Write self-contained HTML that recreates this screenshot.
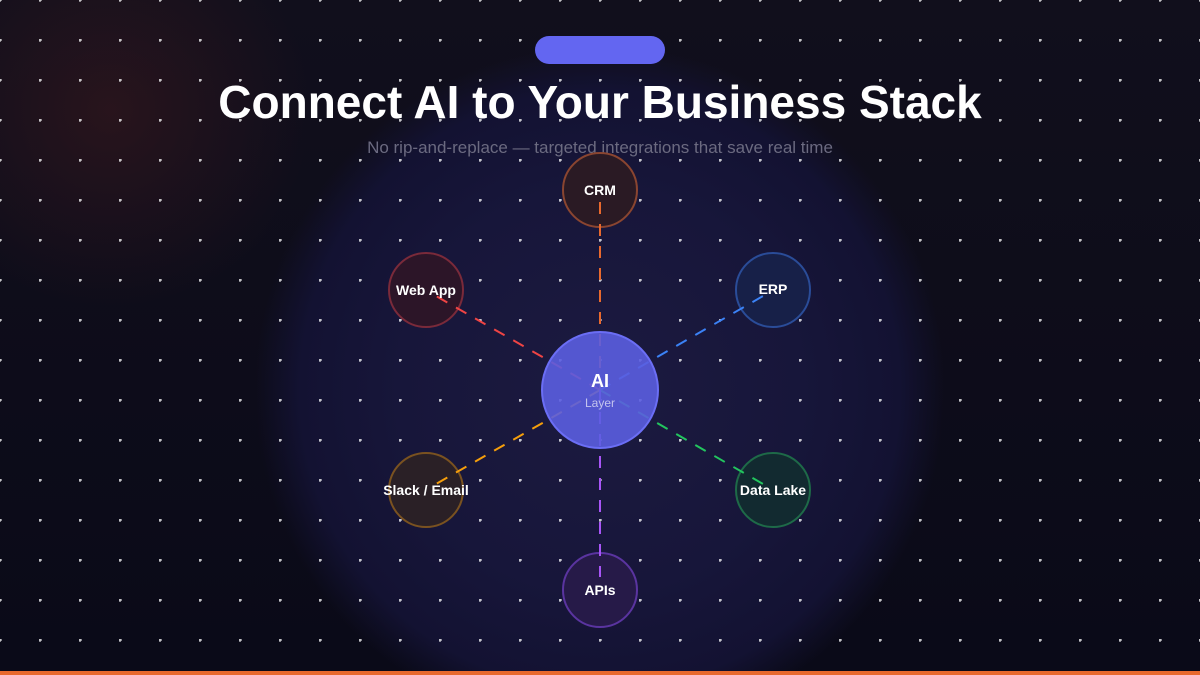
<!DOCTYPE html>
<html><head><meta charset="utf-8"><style>
html,body{margin:0;padding:0}
body{width:1200px;height:675px;overflow:hidden;background:#0c0b18;font-family:"Liberation Sans",sans-serif;position:relative}
.bg{position:absolute;inset:0;background:
radial-gradient(circle at 600px 390px,#1c1a40 0,#17163a 200px,#131232 300px,rgba(14,13,30,0) 345px),
radial-gradient(circle at 110px 110px,rgba(60,25,30,.55) 0,rgba(30,15,25,0) 200px),
linear-gradient(180deg,#110f1c,#0a0a18)}
.pill{position:absolute;left:535px;top:36px;width:130px;height:28px;border-radius:14px;background:#6366f1}
h1{position:absolute;top:75px;left:0;width:1200px;margin:0;text-align:center;color:#fff;font-size:46px;font-weight:bold;line-height:54px}
.sub{position:absolute;top:138px;left:0;width:1200px;text-align:center;color:#6b6a80;font-size:17px}
.bar{position:absolute;left:0;top:671px;width:1200px;height:4px;background:#e8692e}
svg{position:absolute;left:0;top:0}
</style></head><body>
<div class="bg"></div>
<svg width="1200" height="675"><defs><pattern id="p" width="40" height="40" patternUnits="userSpaceOnUse"><rect x="0" y="0" width="1" height="1" fill="#fff"/><rect x="39" y="0" width="1" height="1" fill="#fff"/><rect x="0" y="39" width="1" height="1" fill="#fff"/><rect x="0" y="0" width="1.5" height="1.5" fill="#fff"/></pattern></defs>
<g fill="#fff" opacity="0.95" id="d"></g>
<rect width="1200" height="675" fill="none"/>
</svg>
<svg width="1200" height="675" id="dots"></svg>
<script>
(function(){var s=document.getElementById('dots'),h='';for(var x=0;x<=1200;x+=40)for(var y=0;y<=675;y+=40){h+='<rect x="'+(x-1)+'" y="'+(y-0.5)+'" width="3" height="1" fill="#fff"/><rect x="'+(x-0.5)+'" y="'+(y-1)+'" width="1" height="3" fill="#fff"/>';}s.innerHTML=h;})();
</script>
<div class="pill"></div>
<h1>Connect AI to Your Business Stack</h1>
<div class="sub">No rip-and-replace — targeted integrations that save real time</div>
<svg width="1200" height="675" font-family="Liberation Sans, sans-serif" font-weight="bold" font-size="14" text-anchor="middle">
<g stroke-width="2">
<circle cx="600" cy="190" r="37" fill="#2a1a24" stroke="#8a4530"/>
<circle cx="426" cy="290" r="37" fill="#2c1528" stroke="#7a2a3a"/>
<circle cx="773" cy="290" r="37" fill="#172048" stroke="#2a4c98"/>
<circle cx="426" cy="490" r="37" fill="#2a2026" stroke="#7a5220"/>
<circle cx="773" cy="490" r="37" fill="#122a30" stroke="#1e6a48"/>
<circle cx="600" cy="590" r="37" fill="#261a48" stroke="#5a34a0"/>
</g>
<g stroke-width="2" stroke-dasharray="12 10">
<line x1="600" y1="390" x2="600" y2="200" stroke="#e8692e"/>
<line x1="600" y1="390" x2="436" y2="296" stroke="#ef4444"/>
<line x1="600" y1="390" x2="763" y2="296" stroke="#3b82f6"/>
<line x1="600" y1="390" x2="436" y2="484" stroke="#f59e0b"/>
<line x1="600" y1="390" x2="763" y2="484" stroke="#22c55e"/>
<line x1="600" y1="390" x2="600" y2="577" stroke="#a855f7"/>
</g>
<circle cx="600" cy="390" r="58" fill="#5b5ee0" fill-opacity="0.9" stroke="#6b6ef5" stroke-width="2"/>
<g fill="#fff">
<text x="600" y="195">CRM</text>
<text x="426" y="295">Web App</text>
<text x="773" y="294">ERP</text>
<text x="426" y="495">Slack / Email</text>
<text x="773" y="495">Data Lake</text>
<text x="600" y="595">APIs</text>
<text x="600" y="387" font-size="18">AI</text>
</g>
<text x="600" y="407" font-size="12" font-weight="normal" fill="#c4c4ee">Layer</text>
</svg>
<div class="bar"></div>
</body></html>
